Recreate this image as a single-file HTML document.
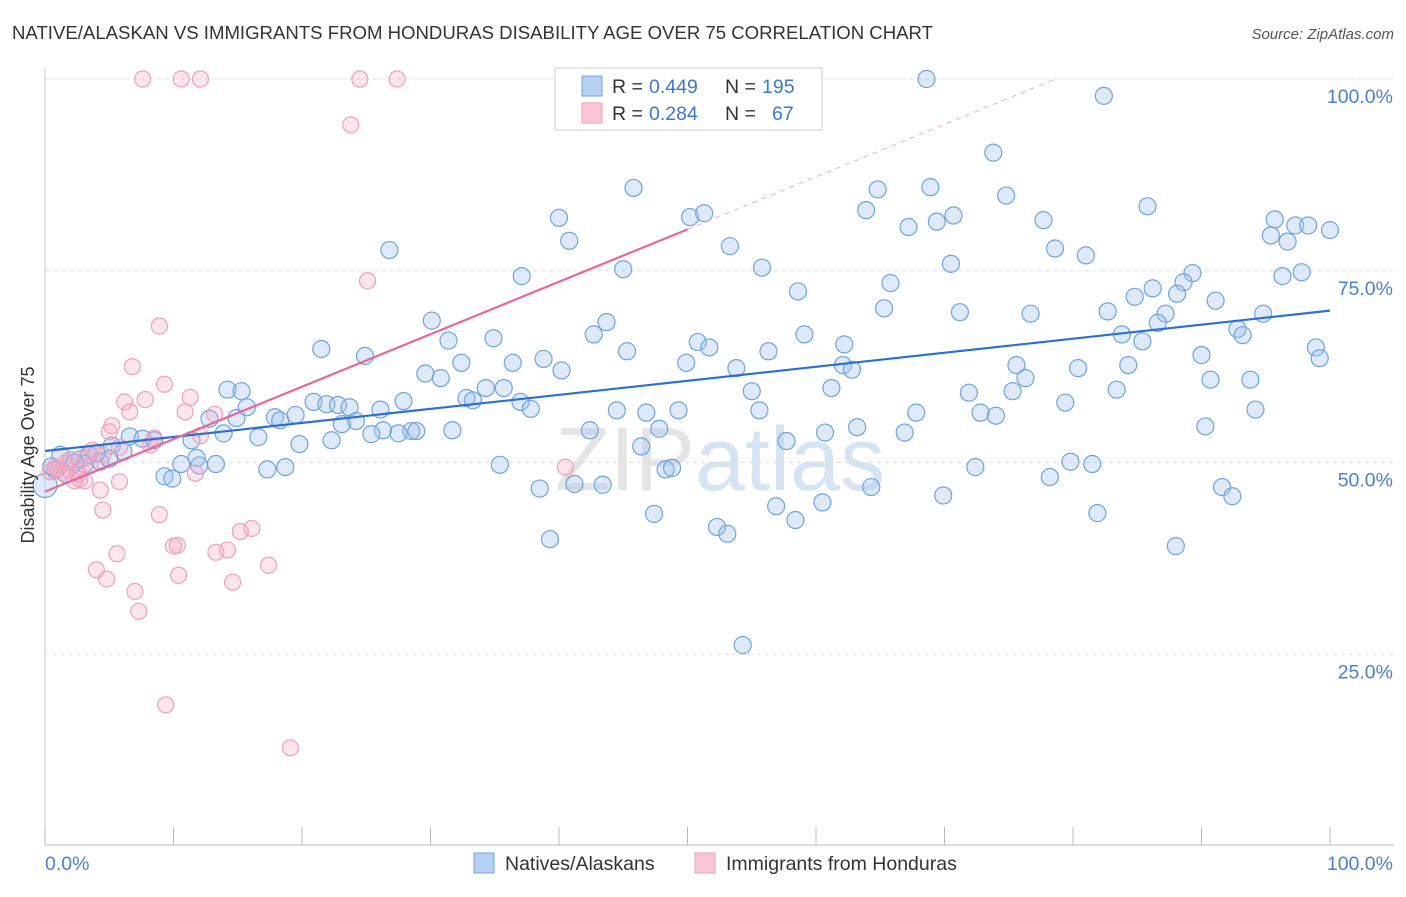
<!DOCTYPE html>
<html><head><meta charset="utf-8"><style>
body{margin:0;background:#fff;font-family:"Liberation Sans",sans-serif;}
svg text{font-family:"Liberation Sans",sans-serif;}
</style></head><body>
<svg id="chart" width="1406" height="892">
<text x="12" y="39" font-size="18.6" fill="#333" textLength="921">NATIVE/ALASKAN VS IMMIGRANTS FROM HONDURAS DISABILITY AGE OVER 75 CORRELATION CHART</text>
<text x="1394" y="39" font-size="15" fill="#555" font-style="italic" text-anchor="end">Source: ZipAtlas.com</text>
<text x="720" y="490" font-size="90" fill="#e4e4e4" text-anchor="middle" font-family="Liberation Serif">ZIP<tspan fill="#d6e3f3" font-family="Liberation Sans">atlas</tspan></text>
<g id="grid"></g>
<g id="axes"></g>
<g id="pts"></g>
<g id="trend"></g>
<text x="34" y="455" font-size="18" fill="#333" text-anchor="middle" transform="rotate(-90 34 455)">Disability Age Over 75</text>
<g>
<rect x="555" y="68" width="267" height="62" fill="#fff" stroke="#ccc"/>
<rect x="582" y="76" width="20" height="20" fill="#b7d1f3" stroke="#6fa3e0"/>
<rect x="582" y="103" width="20" height="20" fill="#f8c6d5" stroke="#f0a0b8"/>
<text x="612" y="93" font-size="19.5" fill="#333">R =</text>
<text x="649" y="93" font-size="19.5" fill="#3a78d4">0.449</text>
<text x="725" y="93" font-size="19.5" fill="#333">N =</text>
<text x="762" y="93" font-size="19.5" fill="#3a78d4">195</text>
<text x="612" y="120" font-size="19.5" fill="#333">R =</text>
<text x="649" y="120" font-size="19.5" fill="#3a78d4">0.284</text>
<text x="725" y="120" font-size="19.5" fill="#333">N =</text>
<text x="772" y="120" font-size="19.5" fill="#3a78d4">67</text>
</g>
<g>
<rect x="474" y="853" width="20" height="20" fill="#b7d1f3" stroke="#6fa3e0"/>
<text x="505" y="870" font-size="19.5" fill="#333">Natives/Alaskans</text>
<rect x="695" y="853" width="20" height="20" fill="#f8c6d5" stroke="#f0a0b8"/>
<text x="726" y="870" font-size="19.5" fill="#333">Immigrants from Honduras</text>
</g>
</svg>
<script>
const yTicks=[25,50,75,100];
const xTickLabels=["0.0%","100.0%"];
const blueX=[68.6,82.4,73.8,45.8,64.8,68.9,74.8,40,50.2,51.3,63.9,85.8,95.7,97.3,98.3,100,69.4,70.7,67.2,77.7,40.8,95.4,96.7,53.3,26.8,78.6,81,70.5,55.8,45,37.1,89.3,97.8,96.3,88.6,86.2,65.8,58.6,84.8,88.1,91.1,65.3,71.2,76.7,82.7,87.2,94.8,30.1,43.7,86.6,92.8,93.2,42.7,59.1,83.8,85.4,34.9,31.4,50.8,51.7,62.2,98.9,21.5,45.3,56.3,90,24.9,38.8,36.4,49.9,32.4,99.2,75.6,80.4,62.1,62.8,84.3,53.8,40.2,29.6,30.8,76.3,90.7,93.8,14.2,15.3,34.3,35.7,55,61.2,83.4,71.9,75.3,32.8,33.3,27.9,20.9,21.9,22.8,23.7,15.7,37,79.4,26.1,37.8,44.5,46.8,49.3,55.6,67.8,72.8,74,94.2,12.8,14.9,17.9,18.3,19.5,24.2,23.1,31.7,26.3,28.5,28.9,27.5,42.4,47.8,60.7,63.2,66.9,90.3,13.9,16.6,22.3,25.4,19.8,11.4,6.6,7.6,8.5,5.2,6.1,57.7,46.4,10.6,11.8,12,13.3,17.3,18.7,35.4,48.3,48.8,72.4,79.8,81.5,9.3,9.9,38.5,41.2,43.4,64.3,78.2,91.6,69.9,92.4,56.9,60.5,58.4,47.4,81.9,52.3,53.1,39.3,88,54.3,0,1.2,2,2.7,3.4,4.3,0.8,5,3.1,1.6,2.3,4,0.5];
const blueY=[100,97.8,90.4,85.8,85.6,85.9,84.8,81.9,82,82.5,82.9,83.4,81.7,80.9,80.9,80.3,81.4,82.2,80.7,81.6,78.9,79.6,78.8,78.2,77.7,77.9,77,75.9,75.4,75.2,74.3,74.7,74.8,74.3,73.5,72.7,73.4,72.3,71.6,72,71.1,70.1,69.6,69.4,69.7,69.4,69.4,68.5,68.3,68.2,67.4,66.6,66.7,66.7,66.7,65.8,66.2,65.9,65.7,65,65.4,65,64.8,64.5,64.5,64,63.9,63.5,63,63,63,63.6,62.7,62.3,62.7,62.1,62.7,62.3,62,61.6,61,61,60.8,60.8,59.5,59.3,59.7,59.7,59.3,59.7,59.5,59.1,59.3,58.4,58.1,58,57.9,57.6,57.5,57.2,57.2,57.9,57.8,56.9,57,56.8,56.5,56.8,56.8,56.5,56.5,56.1,56.9,55.7,55.8,55.9,55.5,56.2,55.4,55,54.2,54.2,54.1,54.1,53.8,54.2,54.4,53.9,54.6,53.9,54.7,53.8,53.3,52.9,53.7,52.4,52.9,53.4,53.1,52.9,52.2,51.4,52.8,52.1,49.8,50.6,49.6,49.8,49.1,49.4,49.7,49.1,49.3,49.4,50.1,49.8,48.2,47.9,46.6,47.2,47.1,46.8,48.1,46.8,45.7,45.6,44.3,44.8,42.5,43.3,43.4,41.6,40.7,40,39.1,26.2,47,51,50.3,50.4,51,50.1,49,50.5,49.8,48.5,50,51.2,49.5];
const pinkX=[7.6,10.6,12.1,24.5,27.4,23.8,25.1,8.9,6.8,9.3,11.3,6.2,7.8,6.6,10.9,13.2,5.2,5,12.1,8.5,3.7,8.2,5.8,40.5,11.7,5.8,4.3,4.5,8.9,16.1,15.2,10,10.3,14.2,13.3,5.6,17.4,4,10.4,4.8,14.6,7,7.3,9.4,19.1,0.8,1.3,1.9,2.3,2.7,3.1,3.5,1.6,0.4,2,4.5,3.2,1,2.6];
const pinkY=[100,100,100,100,100,94,73.7,67.8,62.5,60.2,58.5,57.9,58.2,56.6,56.6,56.3,54.8,54,53.5,53.2,51.6,52.3,52,49.4,48.6,47.5,46.4,43.8,43.2,41.4,41,39.1,39.2,38.6,38.3,38.1,36.6,36,35.3,34.8,34.4,33.2,30.6,18.4,12.8,49.4,48.7,49,47.6,47.8,47.6,49.6,50,48.8,50.4,51,50.6,49.2,48.5];
const blueTrend=[[0,51.5],[100,69.8]];
const pinkTrend=[[0,46.2],[50,80.4]];
const X0=45,X1=1330,Y0=846,Y100=79;
const sx=v=>X0+(X1-X0)*v/100, sy=v=>Y0-(Y0-Y100)*v/100;
const NS="http://www.w3.org/2000/svg";
function mk(t,a,p){const e=document.createElementNS(NS,t);for(const k in a)e.setAttribute(k,a[k]);p.appendChild(e);return e;}
const grid=document.getElementById('grid'),axes=document.getElementById('axes');
yTicks.forEach(t=>{
 const l=mk('line',{x1:X0,x2:1394,y1:sy(t),y2:sy(t),stroke:'#ddd','stroke-dasharray':'4,4'},grid);
 
 
 const tx=mk('text',{x:1393,y:sy(t)+24,'font-size':19.5,fill:'#4a80d0','text-anchor':'end'},axes);
 tx.textContent=t.toFixed(1)+'%';
 
 
});
const ax=mk('line',{x1:X0,x2:1394,y1:845,y2:845,stroke:'#bbb'},axes);


const ay=mk('line',{x1:X0,x2:X0,y1:68,y2:845,stroke:'#ccc'},axes);


for(let i=0;i<=10;i++){const l=mk('line',{x1:sx(i*10),x2:sx(i*10),y1:827,y2:845,stroke:'#bbb'},axes);
 
 }
[[0,'start',45],[1,'end',1393]].forEach(([i,a,x])=>{const t=mk('text',{x:x,y:870,'font-size':19.5,fill:'#4a80d0','text-anchor':a},axes);t.textContent=xTickLabels[i];
 
 });
const pts=document.getElementById('pts');
blueX.forEach((v,i)=>{const c=mk('circle',{cx:sx(v),cy:sy(blueY[i]),r:v===0?12:8.5,fill:'rgba(160,196,240,0.35)',stroke:'#6fa3e0','stroke-width':1.2},pts);
 
 });
pinkX.forEach((v,i)=>{const c=mk('circle',{cx:sx(v),cy:sy(pinkY[i]),r:8,fill:'rgba(245,170,195,0.3)',stroke:'#f0a0b8','stroke-width':1.2},pts);
 
 });
const tr=document.getElementById('trend');
const bl=mk('line',{x1:sx(blueTrend[0][0]),y1:sy(blueTrend[0][1]),x2:sx(blueTrend[1][0]),y2:sy(blueTrend[1][1]),stroke:'#2a6fd6','stroke-width':2.2},tr);


const slope=(pinkTrend[1][1]-pinkTrend[0][1])/(pinkTrend[1][0]-pinkTrend[0][0]);
const xe=(100-pinkTrend[0][1])/slope;
const pd=mk('line',{x1:sx(pinkTrend[1][0]),y1:sy(pinkTrend[1][1]),x2:sx(xe),y2:sy(100),stroke:'#eeaabb','stroke-width':1,'stroke-dasharray':'5,5'},tr);


const pl=mk('line',{x1:sx(pinkTrend[0][0]),y1:sy(pinkTrend[0][1]),x2:sx(pinkTrend[1][0]),y2:sy(pinkTrend[1][1]),stroke:'#e8679a','stroke-width':2.2},tr);


</script>
</body></html>
